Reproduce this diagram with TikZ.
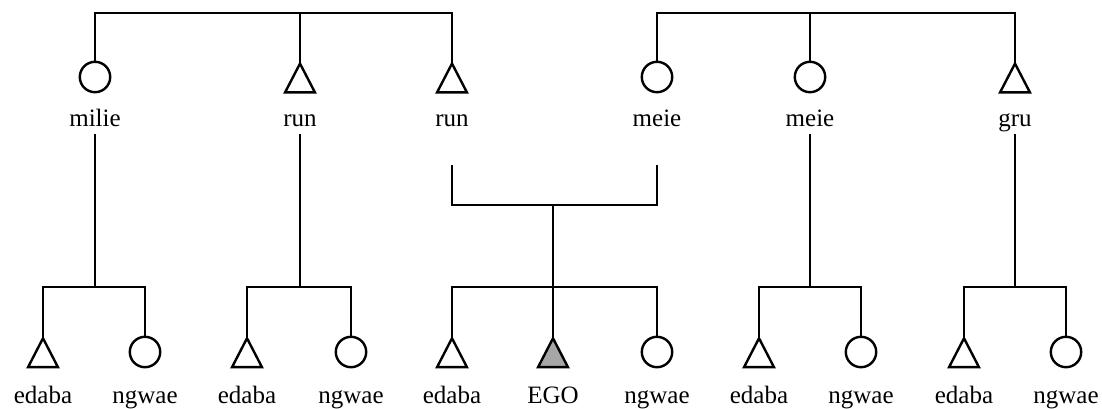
\documentclass[tikz,border=0pt]{standalone}
\usepackage{fontspec}
\setmainfont{Liberation Serif}
\begin{document}
\begin{tikzpicture}[x=1pt,y=-1pt,line width=2.4pt,line join=miter,
  female/.style={circle,draw,minimum size=30.4pt,inner sep=0pt},
  malebox/.style={rectangle,minimum width=27.5pt,minimum height=26.5pt,inner sep=0pt},
  kin/.style={font=\fontsize{25}{28}\selectfont,inner xsep=0pt,inner ysep=6pt,text depth=0pt,anchor=base},
  tri/.style={draw,fill=white},
  egofill/.style={draw,fill=black!35}]
\useasboundingbox (0,0) rectangle (1102,409);
% ---------- top generation ----------
\node[female]  (s1) at (95,77) {};
\node[malebox] (s2) at (300,78) {};
\node[malebox] (s3) at (452,78) {};
\node[female]  (s4) at (657,77) {};
\node[female]  (s5) at (810,77) {};
\node[malebox] (s6) at (1015,78) {};
\node[kin] (l1) at (95,127) {milie};
\node[kin] (l2) at (300,127) {run};
\node[kin] (l3) at (452,127) {run};
\node[kin] (l4) at (657,127) {meie};
\node[kin] (l5) at (810,127) {meie};
\node[kin] (l6) at (1015,127) {gru};
% ---------- bottom generation ----------
\foreach \n/\x in {a1/43,a2/247,a3/452,a4/759,a5/964} {
  \node[malebox] (\n) at (\x,352.7) {};
}
\node[malebox] (ego) at (553,352.7) {};
\foreach \n/\x in {b1/145,b2/351,b3/657,b4/861,b5/1066} {
  \node[female] (\n) at (\x,352) {};
}
\foreach \n/\x in {e1/43,e2/247,e3/452,e4/759,e5/964} {
  \node[kin] (\n) at (\x,403) {edaba};
}
\foreach \n/\x in {g1/145,g2/351,g3/657,g4/861,g5/1066} {
  \node[kin] (\n) at (\x,403) {ngwae};
}
\node[kin] (egol) at (553,403) {EGO};
% triangles
\foreach \n in {s2,s3,s6,a1,a2,a3,a4,a5} {
  \draw[tri] (\n.north) -- (\n.south east) -- (\n.south west) -- cycle;
}
\draw[egofill] (ego.north) -- (ego.south east) -- (ego.south west) -- cycle;
% ---------- sibling bars, top ----------
\coordinate (t1) at (95,13);
\coordinate (t2) at (300,13);
\coordinate (t3) at (452,13);
\coordinate (t4) at (657,13);
\coordinate (t5) at (810,13);
\coordinate (t6) at (1015,13);
\draw (s1.north) -- (t1) -- (t3) -- (s3.north);
\draw (t2) -- (s2.north);
\draw (s4.north) -- (t4) -- (t6) -- (s6.north);
\draw (t5) -- (s5.north);
% ---------- marriage ----------
\coordinate (mL) at (452,165);
\coordinate (mR) at (657,165);
\coordinate (mC) at (553,205);
\draw (mL) -- (452,205) -- (657,205) -- (mR);
% ---------- descent lines and sibling bars, bottom ----------
\coordinate (k1) at (95,287);
\coordinate (k2) at (300,287);
\coordinate (k3) at (553,287);
\coordinate (k4) at (810,287);
\coordinate (k5) at (1015,287);
\draw (l1.south) -- (k1);
\draw (l2.south) -- (k2);
\draw (mC) -- (k3);
\draw (l5.south) -- (k4);
\draw (l6.south) -- (k5);
\draw (a1.north) |- (k1) -| (b1.north);
\draw (a2.north) |- (k2) -| (b2.north);
\draw (a3.north) |- (k3) -| (b3.north);
\draw (k3) -- (ego.north);
\draw (a4.north) |- (k4) -| (b4.north);
\draw (a5.north) |- (k5) -| (b5.north);
\end{tikzpicture}
\end{document}
